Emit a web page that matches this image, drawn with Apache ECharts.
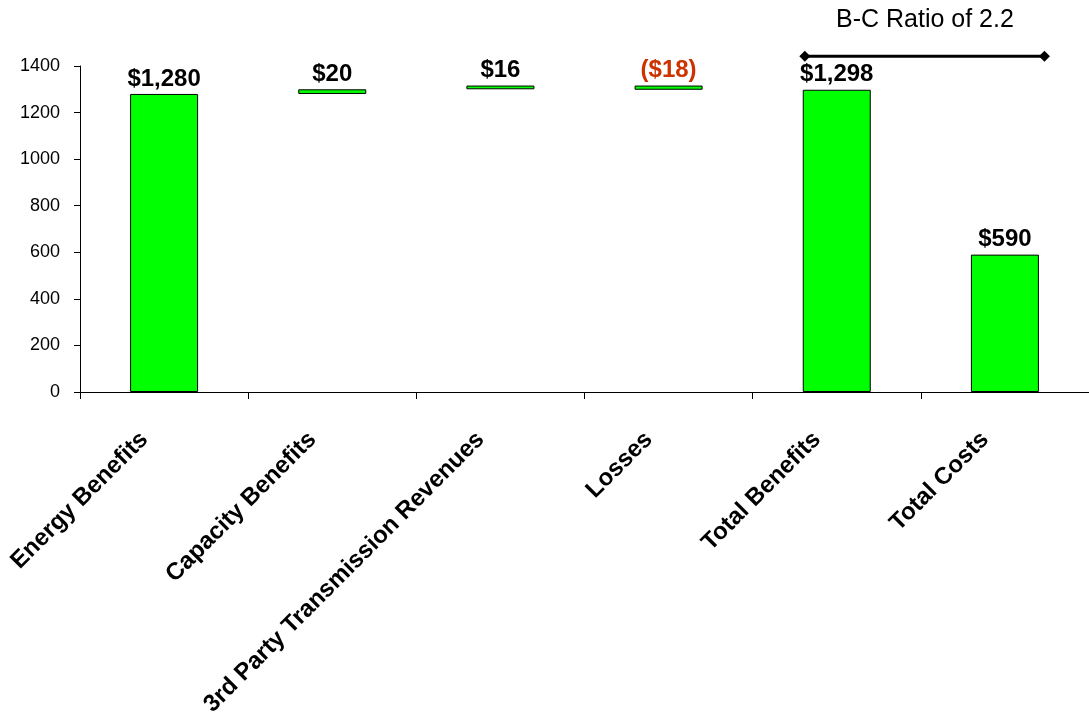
<!DOCTYPE html>
<html>
<head>
<meta charset="utf-8">
<title>Benefit-Cost Waterfall</title>
<script src="https://cdn.jsdelivr.net/npm/echarts@6/dist/echarts.min.js"></script>
<style>
  html, body { margin: 0; padding: 0; background: #fff; }
  #chart { width: 1089px; height: 715px; }
</style>
</head>
<body>
<div id="chart"></div>
<script>
// Categories and their values ($ millions); steps build up, totals stand on zero
const categories = ['Energy Benefits', 'Capacity Benefits', '3rd Party Transmission Revenues', 'Losses', 'Total Benefits', 'Total Costs'];
const values = [1280, 20, 16, -18, 1298, 590];
const isTotal = [false, false, false, false, true, true];

// Y axis scale
const yMin = 0;
const yMax = 1400;
const yStep = 200;

// B-C ratio bracket: spans from Total Benefits to past Total Costs, above the bars
const ratioText = 'B-C Ratio of 2.2';
const ratioSpan = [4.31, 5.735];
const ratioLevel = 1442;

// Build invisible bases and visible bar heights for the waterfall
const base = [];
const height = [];
let running = 0;
values.forEach((v, i) => {
  if (isTotal[i]) {
    base.push(0);
    height.push(v);
  } else if (v >= 0) {
    base.push(running);
    height.push(v);
    running += v;
  } else {
    running += v;
    base.push(running);
    height.push(-v);
  }
});

function money(v) {
  const s = '$' + Math.abs(v).toLocaleString('en-US');
  return v < 0 ? '(' + s + ')' : s;
}

const font = 'Liberation Sans, Arial, Helvetica, sans-serif';

const chart = echarts.init(document.getElementById('chart'), null, { renderer: 'canvas' });

chart.setOption({
  animation: false,
  backgroundColor: '#ffffff',
  title: {
    text: ratioText,
    left: 836,
    top: 8,
    padding: 0,
    textStyle: { fontFamily: font, fontSize: 25, fontWeight: 'normal', color: '#000' }
  },
  grid: { left: 80, right: 0, top: 66, bottom: 323, containLabel: false, outerBoundsMode: 'none' },
  xAxis: [
    {
      type: 'category',
      data: categories,
      boundaryGap: true,
      axisLine: { show: true, lineStyle: { color: '#000', width: 1 } },
      axisTick: { show: true, length: 7, lineStyle: { color: '#000' } },
      axisLabel: {
        interval: 0,
        rotate: 45,
        margin: 24,
        padding: [0, 28, 0, 0],
        fontFamily: font,
        fontSize: 24,
        fontWeight: 'bold',
        color: '#000'
      },
      splitLine: { show: false }
    },
    {
      type: 'value',
      min: 0,
      max: categories.length,
      show: false
    }
  ],
  yAxis: {
    type: 'value',
    min: yMin,
    max: yMax,
    interval: yStep,
    axisLine: { show: true, lineStyle: { color: '#000', width: 1 } },
    axisTick: { show: true, length: 6, inside: false, lineStyle: { color: '#000' } },
    axisLabel: {
      margin: 20,
      fontFamily: font,
      fontSize: 18,
      color: '#000',
      formatter: v => String(v)
    },
    splitLine: { show: false }
  },
  series: [
    {
      name: 'base',
      type: 'bar',
      stack: 'wf',
      barWidth: 68,
      silent: true,
      itemStyle: { color: 'transparent', borderWidth: 0 },
      data: base
    },
    {
      name: 'value',
      type: 'bar',
      stack: 'wf',
      barWidth: 68,
      itemStyle: { color: '#00ff00', borderColor: '#000', borderWidth: 1 },
      label: {
        show: true,
        position: 'top',
        distance: 3,
        fontFamily: font,
        fontSize: 24,
        fontWeight: 'bold',
        formatter: p => money(values[p.dataIndex]),
        color: '#000'
      },
      data: height.map((h, i) => ({
        value: h,
        label: values[i] < 0 ? { color: '#cc3300' } : undefined
      }))
    },
    {
      name: 'ratio',
      type: 'line',
      xAxisIndex: 1,
      clip: false,
      symbol: 'diamond',
      symbolSize: 11,
      lineStyle: { color: '#000', width: 3 },
      itemStyle: { color: '#000' },
      data: ratioSpan.map(x => [x, ratioLevel])
    }
  ]
});
</script>
</body>
</html>
